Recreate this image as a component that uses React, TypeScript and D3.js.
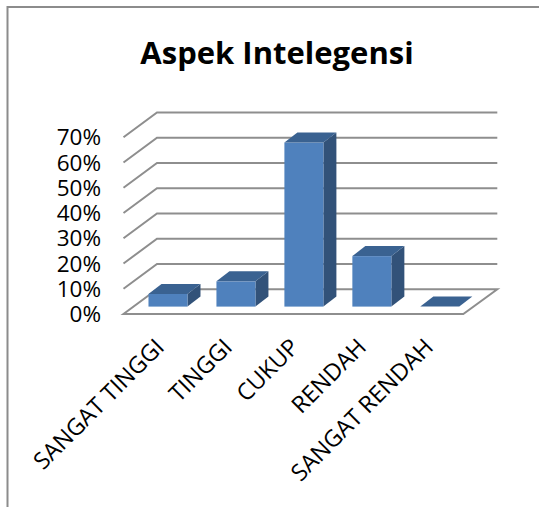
import React from "react";
import * as d3 from "d3";

const categories = ["SANGAT TINGGI", "TINGGI", "CUKUP", "RENDAH", "SANGAT RENDAH"];
const values = [5, 10, 65, 20, 0];
const ticks = [0, 10, 20, 30, 40, 50, 60, 70];
const labelAnchors = [154, 222, 289, 356, 423];
const FONT = "'Open Sans', Lato, sans-serif";

export default function App() {
  const y = d3.scaleLinear().domain([0, 70]).range([314, 137.3]);
  const x = d3.scaleBand<string>().domain(categories).range([123.5, 463.3]).paddingInner(0).paddingOuter(0);
  const depth = { dx: 33.5, dy: -24.8 };
  const barDepth = { dx: 13, dy: -10 };
  const barW = 39;
  const barLift = 7.4;
  const barShift = 10.5;
  const line = d3.line();
  const poly = (p: [number, number][]) => line(p) + "Z";
  return (
    <svg width={539} height={507} style={{ position: "fixed", left: 0, top: 0 }}>
      <rect width={539} height={507} fill="#fff" />
      <path d="M7.5 507V7H539" fill="none" stroke="#8c8c8c" strokeWidth={2} />
      <text x={277} y={64} textAnchor="middle" fontFamily={FONT} fontWeight={700} fontSize={31} fill="#000">Aspek Intelegensi</text>

      {ticks.map((t) => (
        <g key={t}>
          {t > 0 && (
            <path
              d={line([[123.5, y(t)], [123.5 + depth.dx, y(t) + depth.dy], [497.3, y(t) + depth.dy]])!}
              fill="none" stroke="#8e8e8e" strokeWidth={2}
            />
          )}
          <text x={101} y={y(t) + 8} textAnchor="end" fontFamily={FONT} fontSize={22.5} fill="#000">{t}%</text>
        </g>
      ))}
      <path
        d={poly([[123.5, 314], [463.3, 314], [497.3, 289.2], [157, 289.2]])}
        fill="#fff" stroke="#8e8e8e" strokeWidth={2}
      />

      {categories.map((c, i) => {
        const x0 = x(c)! + x.bandwidth() / 2 + barShift - barW / 2;
        const x1 = x0 + barW;
        const yb = 314 - barLift;
        const yt = yb - (y(0) - y(values[i]));
        const { dx, dy } = barDepth;
        return (
          <g key={c}>
            <path d={poly([[x1, yb], [x1 + dx, yb + dy], [x1 + dx, yt + dy], [x1, yt]])} fill="#325279" />
            <rect x={x0} y={yt} width={barW} height={yb - yt} fill="#4f81bd" />
            <path d={poly([[x0, yt], [x1, yt], [x1 + dx, yt + dy], [x0 + dx, yt + dy]])} fill="#3a6291" />
          </g>
        );
      })}

      {categories.map((c, i) => (
        <text key={c} transform={`translate(${labelAnchors[i]},${337}) rotate(-45)`} textAnchor="end" dy="0.7em"
          fontFamily={FONT} fontSize={23.3} fill="#000">{c}</text>
      ))}
    </svg>
  );
}
